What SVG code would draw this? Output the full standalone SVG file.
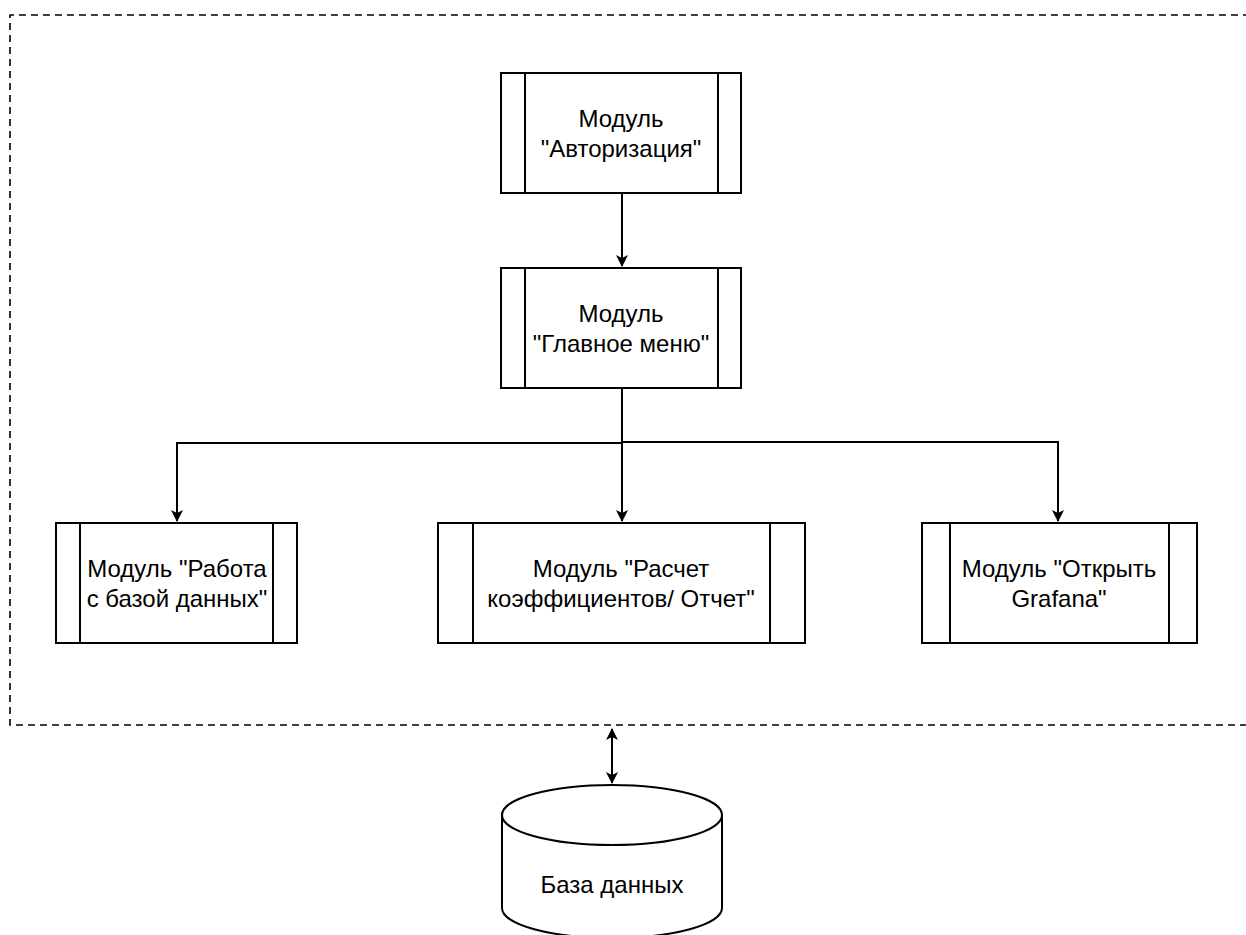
<svg xmlns="http://www.w3.org/2000/svg" width="1246" height="935" viewBox="0 0 1246 935">
  <style>
    .box { fill: #ffffff; stroke: #000000; stroke-width: 2; }
    .bar { fill: none; stroke: #000000; stroke-width: 2; }
    .label { font-family: "Liberation Sans", Arial, sans-serif; font-size: 24px; fill: #000000; text-anchor: middle; }
    .wire { fill: none; stroke: #000000; stroke-width: 2; }
    .frame { fill: none; stroke: #000000; stroke-width: 1.6; stroke-dasharray: 7 5; }
  </style>
  <defs>
    <marker id="arrow" viewBox="0 0 12 12" refX="11" refY="6" markerWidth="12" markerHeight="12" markerUnits="userSpaceOnUse" orient="auto-start-reverse">
      <path d="M0,0 L12,6 L0,12 L3,6 Z" fill="#000000"/>
    </marker>
  </defs>

  <!-- system boundary -->
  <path class="frame" d="M1250,15 H10 V725 H1250"/>

  <!-- connectors -->
  <g id="connectors">
    <path class="wire" d="M622,193 V266" marker-end="url(#arrow)"/>
    <path class="wire" d="M622,388 V521" marker-end="url(#arrow)"/>
    <path class="wire" d="M622,443 H177 V521" marker-end="url(#arrow)"/>
    <path class="wire" d="M622,442 H1058 V521" marker-end="url(#arrow)"/>
    <path class="wire" d="M612,729 V783" marker-start="url(#arrow)" marker-end="url(#arrow)"/>
  </g>

  <g id="auth">
    <rect class="box" x="501" y="73" width="240" height="120"/>
    <path class="bar" d="M525,73 V193 M718,73 V193"/>
    <text class="label" x="621" y="127">Модуль</text>
    <text class="label" x="621" y="157">"Авторизация"</text>
  </g>

  <g id="main-menu">
    <rect class="box" x="501" y="268" width="240" height="120"/>
    <path class="bar" d="M525,268 V388 M718,268 V388"/>
    <text class="label" x="621" y="322">Модуль</text>
    <text class="label" x="621" y="352">"Главное меню"</text>
  </g>

  <g id="db-work">
    <rect class="box" x="56" y="523" width="241" height="120"/>
    <path class="bar" d="M80,523 V643 M273,523 V643"/>
    <text class="label" x="177" y="577">Модуль "Работа</text>
    <text class="label" x="177" y="607">с базой данных"</text>
  </g>

  <g id="calc-report">
    <rect class="box" x="438" y="523" width="367" height="120"/>
    <path class="bar" d="M473,523 V643 M770,523 V643"/>
    <text class="label" x="621" y="577">Модуль "Расчет</text>
    <text class="label" x="621" y="607">коэффициентов/ Отчет"</text>
  </g>

  <g id="grafana">
    <rect class="box" x="922" y="523" width="275" height="120"/>
    <path class="bar" d="M950,523 V643 M1169,523 V643"/>
    <text class="label" x="1059" y="577">Модуль "Открыть</text>
    <text class="label" x="1059" y="607">Grafana"</text>
  </g>

  <g id="database">
    <path class="box" d="M502,815 A110,30 0 0 1 722,815 V908 A110,30 0 0 1 502,908 Z"/>
    <path class="bar" d="M502,815 A110,30 0 0 0 722,815"/>
    <text class="label" x="612" y="893">База данных</text>
  </g>
</svg>
